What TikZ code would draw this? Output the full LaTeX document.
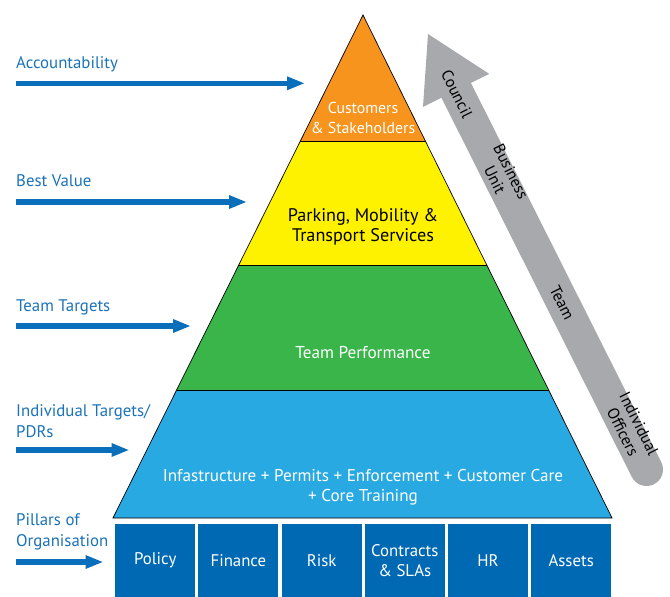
\documentclass[tikz,border=0pt]{standalone}
\usepackage{fontspec}
\setmainfont{PT Sans}
\usetikzlibrary{arrows.meta}
\definecolor{orangeL}{HTML}{F7941D}
\definecolor{yellowL}{HTML}{FFF200}
\definecolor{greenL}{HTML}{39B54A}
\definecolor{blueL}{HTML}{29A9E1}
\definecolor{boxblue}{HTML}{0069B4}
\definecolor{arrowblue}{HTML}{0A6FBA}
\definecolor{labelblue}{HTML}{1A72B8}
\definecolor{grayarrow}{HTML}{A7A9AC}
\tikzset{
  layer/.style={draw=black, line width=0.7pt, line join=miter},
  bluearrow/.style={draw=arrowblue, line width=5.3pt, -{Triangle[length=18pt,width=12.5pt]}},
  sidelabel/.style={anchor=base west, inner sep=0pt, text=labelblue, font=\fontsize{16.8}{20.5}\selectfont, align=left},
  pyrtext/.style={inner sep=0pt, align=center},
  pillar/.style={fill=boxblue, minimum width=80pt, minimum height=73pt, anchor=north west, inner sep=0pt, text=white, align=center, font=\fontsize{16.8}{20}\selectfont},
  graytext/.style={inner sep=0pt, align=center, rotate=-63.5, font=\fontsize{16}{18}\selectfont}
}
\begin{document}
\begin{tikzpicture}[x=1pt,y=-1pt]
\useasboundingbox (0,0) rectangle (670,597);
% pyramid coordinates
\coordinate (apex) at (363,15);
\coordinate (l1) at (300.4,141); \coordinate (r1) at (425.4,141);
\coordinate (l2) at (238.7,265); \coordinate (r2) at (486.8,265);
\coordinate (l3) at (176.6,390); \coordinate (r3) at (548.6,390);
\coordinate (l4) at (113,518);   \coordinate (r4) at (612,518);
\fill[orangeL] (apex) -- (r1) -- (l1) -- cycle;
\fill[yellowL] (l1) -- (r1) -- (r2) -- (l2) -- cycle;
\fill[greenL] (l2) -- (r2) -- (r3) -- (l3) -- cycle;
\fill[blueL] (l3) -- (r3) -- (r4) -- (l4) -- cycle;
\draw[layer] (apex) -- (r4) -- (l4) -- cycle;
\draw[layer] (l1) -- (r1);
\draw[layer] (l2) -- (r2);
\draw[layer] (l3) -- (r3);
% pyramid texts
\node[pyrtext, text=white, font=\fontsize{15.8}{20}\selectfont] (cust) at (363,118) {Customers\\\& Stakeholders};
\node[pyrtext, text=black, font=\fontsize{18.2}{20.5}\selectfont] (park) at (363,227) {Parking, Mobility \&\\Transport Services};
\node[pyrtext, text=white, font=\fontsize{17.2}{20}\selectfont] (team) at (363,353) {Team Performance};
\node[pyrtext, text=white, font=\fontsize{17.1}{20}\selectfont] (infra) at (363,487) {Infastructure + Permits + Enforcement + Customer Care\\+ Core Training};
% pillars
\node[pillar] (policy) at (115,524) {Policy};
\node[pillar] (finance) at (198.2,524) {Finance};
\node[pillar] (risk) at (281.4,524) {Risk};
\node[pillar] (contracts) at (364.6,524) {Contracts\\\& SLAs};
\node[pillar] (hr) at (447.8,524) {HR};
\node[pillar] (assets) at (531,524) {Assets};
% side labels
\node[sidelabel] (acc) at (16,68.5) {Accountability};
\node[sidelabel] (bv) at (16,186) {Best Value};
\node[sidelabel] (tt) at (16,311.5) {Team Targets};
\node[sidelabel] (it) at (16,437) {Individual Targets/\\PDRs};
\node[sidelabel] (po) at (16,546) {Pillars of\\Organisation};
% side arrows
\coordinate (a1s) at (16,83.3);  \coordinate (a1e) at (305,83.3);
\coordinate (a2s) at (16,202);   \coordinate (a2e) at (247,202);
\coordinate (a3s) at (16,326);   \coordinate (a3e) at (191,326);
\coordinate (a4s) at (16,450);   \coordinate (a4e) at (129.5,450);
\coordinate (a5s) at (16,562);   \coordinate (a5e) at (103.5,562);
\draw[bluearrow] (a1s) -- (a1e);
\draw[bluearrow] (a2s) -- (a2e);
\draw[bluearrow] (a3s) -- (a3e);
\draw[bluearrow] (a4s) -- (a4e);
\draw[bluearrow] (a5s) -- (a5e);
% gray arrow
\coordinate (gtip) at (428,34);
\coordinate (gbl) at (423,106.9);
\coordinate (gbr) at (489.2,73.9);
\coordinate (gs) at (456.6,91.2);
\coordinate (ge) at (646.5,469.5);
\draw[grayarrow, line width=33pt, line cap=round] (gs) -- (ge);
\fill[grayarrow] (gtip) -- (gbr) -- (gbl) -- cycle;
\node[graytext] (council) at (457,94) {Council};
\node[graytext] (bu) at (503,176) {Business\\Unit};
\node[graytext] (gteam) at (562,303) {Team};
\node[graytext] (io) at (631,428) {Individual\\Officers};
\end{tikzpicture}
\end{document}
